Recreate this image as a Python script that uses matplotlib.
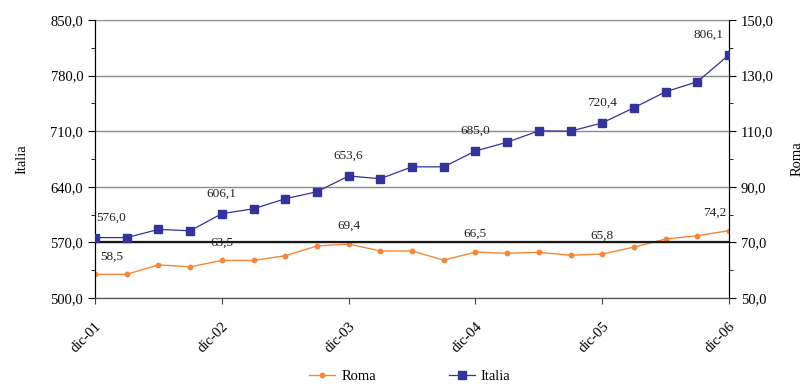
"""
plot.py
-------
Quarterly index, Italia vs. Roma (Dec 2001 - Dec 2006), dual y-axis line chart.
Italia on the left axis, Roma on the right axis; year-end values annotated.
"""

import matplotlib
matplotlib.use("Agg")
import matplotlib.pyplot as plt
import numpy as np
from matplotlib.ticker import FuncFormatter

# ---------------------------------------------------------------------------
# Data (quarterly, dic-01 .. dic-06)
# ---------------------------------------------------------------------------

year_labels = ["dic-01", "dic-02", "dic-03", "dic-04", "dic-05", "dic-06"]

italia = [576.0, 576.0, 586.3, 584.6, 606.1, 612.3, 624.9, 633.7, 653.6, 650.1,
          665.1, 665.1, 685.0, 696.1, 710.4, 710.0, 720.4, 739.5, 759.6, 772.2,
          806.1]

roma = [58.5, 58.5, 61.9, 61.2, 63.5, 63.5, 65.2, 68.7, 69.4, 66.9,
        66.9, 63.6, 66.5, 66.1, 66.4, 65.4, 65.8, 68.3, 71.2, 72.4,
        74.2]

ITALIA_COLOR = "#333399"
ROMA_COLOR = "#F5873A"
FONT = "Liberation Serif"

plt.rcParams["font.family"] = [FONT, "DejaVu Serif"]


def comma_fmt(v, _pos=None):
    return f"{v:.1f}".replace(".", ",")


def annotate_year_ends(ax, values, dy, first_dx, last_dx):
    """Write the December value above every fourth point."""
    n = len(values)
    for i in range(0, n, 4):
        dx = first_dx if i == 0 else (last_dx if i == n - 1 else 0)
        ax.annotate(comma_fmt(values[i]), (i, values[i]),
                    xytext=(dx, dy), textcoords="offset points",
                    ha="center", va="center", fontsize=9.5, color="#222222")


fig = plt.figure(figsize=(8.1, 3.84), dpi=100)
ax = fig.add_axes([0.1173, 0.224, 0.7827, 0.724])
ax2 = ax.twinx()

x = list(range(len(italia)))

# Left axis: Italia
ax.set_ylim(500, 850)
ax.set_xlim(0, len(italia) - 1)
ax.set_yticks(np.arange(500, 851, 70))
ax.set_yticks(np.arange(535, 850, 70), minor=True)
ax.yaxis.set_major_formatter(FuncFormatter(comma_fmt))
ax.grid(True, axis="y", which="major", color="#8c8c8c", linewidth=1.0)
ax.set_axisbelow(True)
ax.axhline(570, color="#1a1a1a", linewidth=1.6, zorder=1.5)

ax.set_xticks(range(0, len(italia), 4))
ax.set_xticklabels(year_labels, rotation=45, ha="right",
                   rotation_mode="anchor", fontsize=10.5)
ax.tick_params(axis="x", length=4, color="#444444", pad=12)
ax.tick_params(axis="y", which="major", length=5, labelsize=10.5)
ax.tick_params(axis="y", which="minor", length=3)
ax.set_ylabel("Italia", fontsize=10.5, labelpad=16)

ax.spines["top"].set_visible(False)
ax.spines["bottom"].set_color("#555555")

# Right axis: Roma
ax2.set_ylim(50, 150)
ax2.set_yticks(np.arange(50, 151, 20))
ax2.set_yticks(np.arange(60, 150, 20), minor=True)
ax2.yaxis.set_major_formatter(FuncFormatter(comma_fmt))
ax2.tick_params(axis="y", which="major", length=5, labelsize=10.5)
ax2.tick_params(axis="y", which="minor", length=3)
ax2.set_ylabel("Roma", fontsize=10.5, rotation=90, labelpad=12)
ax2.spines["top"].set_visible(False)

# Series
l_roma, = ax2.plot(x, roma, color=ROMA_COLOR, linewidth=1.0, marker="o",
                   markersize=3.2, label="Roma", zorder=3)
l_italia, = ax.plot(x, italia, color=ITALIA_COLOR, linewidth=0.9, marker="s",
                    markersize=5.2, label="Italia", zorder=3)
ax.set_zorder(ax2.get_zorder() + 1)
ax.patch.set_visible(False)

annotate_year_ends(ax, italia, 14.4, 11.5, -14.5)
annotate_year_ends(ax2, roma, 13.0, 12.0, -10.5)

fig.legend(handles=[l_roma, l_italia], loc="center", ncol=2, frameon=False,
           bbox_to_anchor=(0.506, 0.02), fontsize=10.5, handlelength=1.8,
           columnspacing=5.0, handletextpad=0.4)

fig.savefig("out.png", dpi=100)
plt.close(fig)
